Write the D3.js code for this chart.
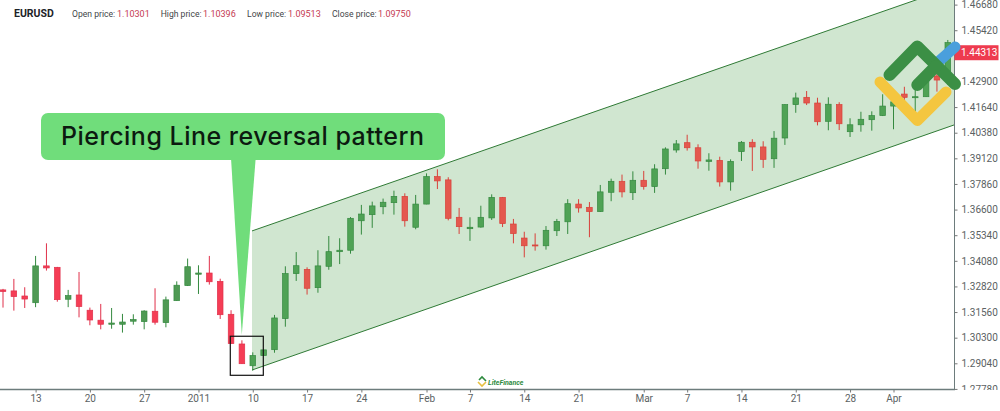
<!DOCTYPE html>
<html>
<head>
<meta charset="utf-8">
<script src="https://cdnjs.cloudflare.com/ajax/libs/d3/7.8.5/d3.min.js"></script>
<style>
    html, body { margin: 0; padding: 0; background: #fff; overflow: hidden; }
    text { font-family: Roboto, sans-serif; }
</style>
</head>
<body>
<script>
// candles, one entry per trading day
const opens = [1.3265,1.3260,1.3235,1.3202,1.3383,1.3376,1.3219,1.3240,1.3165,1.3116,1.3096,1.3096,1.3111,1.3109,1.3160,1.3104,1.3212,1.3286,1.3342,1.3348,1.3307,1.3145,1.2999,1.2892,1.2942,1.2971,1.3124,1.3345,1.3366,1.3276,1.3381,1.3453,1.3460,1.3605,1.3635,1.3674,1.3694,1.3725,1.3573,1.3687,1.3822,1.3806,1.3622,1.3566,1.3574,1.3619,1.3720,1.3589,1.3520,1.3486,1.3482,1.3556,1.3600,1.3687,1.3671,1.3650,1.3745,1.3799,1.3743,1.3804,1.3773,1.3861,1.3953,1.3989,1.3964,1.3897,1.3902,1.3796,1.3945,1.3991,1.3968,1.3910,1.4012,1.4176,1.4212,1.4184,1.4094,1.4176,1.4043,1.4077,1.4102,1.4122,1.4169,1.4228,1.4210,1.4215,1.4317,1.4297];
const highs = [1.3270,1.3319,1.3278,1.3432,1.3494,1.3378,1.3265,1.3353,1.3178,1.3196,1.3176,1.3147,1.3145,1.3165,1.3273,1.3232,1.3307,1.3419,1.3386,1.3432,1.3320,1.3165,1.3017,1.2958,1.2970,1.3142,1.3381,1.3451,1.3376,1.3460,1.3530,1.3519,1.3623,1.3683,1.3699,1.3714,1.3753,1.3740,1.3732,1.3838,1.3858,1.3819,1.3668,1.3622,1.3679,1.3735,1.3722,1.3614,1.3551,1.3543,1.3579,1.3614,1.3711,1.3711,1.3697,1.3781,1.3812,1.3832,1.3848,1.3850,1.3883,1.3966,1.4002,1.4028,1.3981,1.3937,1.3920,1.3907,1.3997,1.4006,1.3996,1.4046,1.4178,1.4235,1.4243,1.4210,1.4212,1.4188,1.4109,1.4141,1.4143,1.4227,1.4233,1.4264,1.4248,1.4307,1.4332,1.4494];
const lows = [1.3178,1.3163,1.3176,1.3180,1.3360,1.3207,1.3180,1.3130,1.3091,1.3071,1.3074,1.3055,1.3094,1.3071,1.3094,1.3081,1.3211,1.3284,1.3245,1.3291,1.3122,1.3000,1.2901,1.2868,1.2942,1.2956,1.3084,1.3309,1.3242,1.3251,1.3364,1.3392,1.3443,1.3537,1.3570,1.3637,1.3635,1.3576,1.3563,1.3686,1.3761,1.3607,1.3540,1.3506,1.3571,1.3609,1.3574,1.3494,1.3425,1.3458,1.3463,1.3530,1.3540,1.3645,1.3524,1.3648,1.3701,1.3720,1.3707,1.3758,1.3742,1.3832,1.3940,1.3950,1.3861,1.3851,1.3773,1.3753,1.3899,1.3850,1.3865,1.3865,1.3978,1.4136,1.4174,1.4074,1.4050,1.4051,1.4017,1.4043,1.4048,1.4120,1.4055,1.4194,1.4135,1.4214,1.4240,1.4273];
const closes = [1.3257,1.3232,1.3220,1.3383,1.3373,1.3217,1.3237,1.3183,1.3117,1.3096,1.3102,1.3107,1.3119,1.3161,1.3106,1.3216,1.3288,1.3379,1.3348,1.3305,1.3143,1.3001,1.2902,1.2942,1.2970,1.3127,1.3345,1.3384,1.3273,1.3383,1.3453,1.3460,1.3617,1.3638,1.3678,1.3696,1.3725,1.3605,1.3687,1.3822,1.3801,1.3617,1.3576,1.3573,1.3622,1.3720,1.3591,1.3542,1.3482,1.3481,1.3558,1.3602,1.3689,1.3668,1.3650,1.3747,1.3799,1.3747,1.3804,1.3773,1.3860,1.3958,1.3983,1.3964,1.3899,1.3904,1.3796,1.3897,1.3991,1.3968,1.3907,1.4011,1.4176,1.4209,1.4184,1.4092,1.4178,1.4082,1.4077,1.4104,1.4122,1.4169,1.4190,1.4212,1.4215,1.4297,1.4297,1.4481];

const dayTicks = [3,8,13,18,23,28,33,39,43,48,53,59,63,68,73,78,82];
const dayLabels = ["13","20","27","2011","10","17","24","Feb","7","14","21","Mar","7","14","21","28","Apr"];
const priceTicks = [1.4668,1.4542,1.429,1.4164,1.4038,1.3912,1.3786,1.366,1.3534,1.3408,1.3282,1.3156,1.303,1.2904,1.2778];
const lastPrice = 1.44313;

// channel corners, day index and price
const channelDays = [22.93,87.57];
const channelUpper = [1.3555,1.4756];
const channelLower = [1.2871,1.4076];
// black box around the pattern
const boxDays = [20.93,23.97];
const boxPrices = [1.3037,1.2845];

const headerNames = ["Open price:","High price:","Low price:","Close price:"];
const headerValues = ["1.10301","1.10396","1.09513","1.09750"];

const width = 1000;
const height = 411;
const plotRight = 954.5;
const plotBottom = 389.5;

const x = d3.scaleLinear().domain([0,87]).range([3,947.8]);
const y = d3.scaleLinear().domain([1.2904,1.4668]).range([363.3,4.6]);

const svg = d3.select("body").append("svg")
    .attr("width", width)
    .attr("height", height)
    .style("display", "block");

svg.append("defs").append("clipPath").attr("id", "plot")
    .append("rect").attr("width", plotRight).attr("height", plotBottom);

// channel
const plot = svg.append("g").attr("clip-path", "url(#plot)");
const channelArea = d3.area()
    .x((d) => x(d))
    .y0((d, i) => y(channelLower[i]))
    .y1((d, i) => y(channelUpper[i]));
plot.append("path").attr("d", channelArea(channelDays)).attr("fill", "#d0e6d0");

[channelUpper, channelLower].forEach((prices) => {
    plot.append("line")
        .attr("x1", x(channelDays[0])).attr("x2", x(channelDays[1]))
        .attr("y1", y(prices[0])).attr("y2", y(prices[1]))
        .attr("stroke", "#2f7a35")
        .attr("stroke-width", 1);
});

// candles
const days = d3.range(opens.length);
const isUp = (i) => closes[i] >= opens[i];
const candleColor = (i) => {
    if (isUp(i)) return i >= 23 ? "#4fa255" : "#4f9a54";
    return i >= 23 ? "#e4584e" : "#f53d55";
};
const candleBorder = (i) => {
    if (isUp(i)) return "#34893f";
    return i >= 23 ? "#d8403a" : "#e0304a";
};

const candles = plot.selectAll("g.candle")
    .data(days)
    .enter()
    .append("g")
    .attr("class", "candle");

candles.append("line")
    .attr("x1", (i) => x(i)).attr("x2", (i) => x(i))
    .attr("y1", (i) => y(highs[i])).attr("y2", (i) => y(lows[i]))
    .attr("stroke", candleBorder)
    .attr("stroke-width", 1);

candles.append("rect")
    .attr("x", (i) => x(i) - 2.8)
    .attr("width", 5.6)
    .attr("y", (i) => y(Math.max(opens[i], closes[i])))
    .attr("height", (i) => Math.max(1, Math.abs(y(opens[i]) - y(closes[i]))))
    .attr("fill", candleColor)
    .attr("stroke", candleBorder)
    .attr("stroke-width", 0.7);

// axes
const xAxis = d3.axisBottom(x)
    .tickValues(dayTicks)
    .tickFormat((d, i) => dayLabels[i])
    .tickSizeInner(3)
    .tickSizeOuter(0)
    .tickPadding(2);
const xAxisG = svg.append("g")
    .attr("transform", `translate(0,${plotBottom})`)
    .call(xAxis);
xAxisG.select(".domain").remove();
xAxisG.selectAll("line").attr("stroke", "#777");
xAxisG.selectAll("text").attr("fill", "#5b6263").style("font-size", "10px");

svg.append("line")
    .attr("x1", 0).attr("x2", plotRight + 0.5)
    .attr("y1", plotBottom).attr("y2", plotBottom)
    .attr("stroke", "#6d7c7c")
    .attr("stroke-width", 1.6);

const yAxis = d3.axisRight(y)
    .tickValues(priceTicks)
    .tickFormat(d3.format(".5f"))
    .tickSizeInner(3)
    .tickSizeOuter(0)
    .tickPadding(4);
const yAxisG = svg.append("g")
    .attr("transform", `translate(${plotRight},0)`)
    .call(yAxis);
yAxisG.select(".domain").remove();
yAxisG.selectAll("line").attr("stroke", "#777");
yAxisG.selectAll("text").attr("fill", "#5b6263").style("font-size", "10px");
// lowest price label is cut by the time axis strip
svg.append("rect")
    .attr("x", plotRight + 1).attr("y", plotBottom + 0.5)
    .attr("width", width - plotRight).attr("height", 12)
    .attr("fill", "#fff");

svg.append("line")
    .attr("x1", plotRight).attr("x2", plotRight)
    .attr("y1", 0).attr("y2", plotBottom)
    .attr("stroke", "#6d7c7c")
    .attr("stroke-width", 1);

// last price tag
svg.append("rect")
    .attr("x", plotRight).attr("y", y(lastPrice) - 7.5)
    .attr("width", 44).attr("height", 15)
    .attr("fill", "#ee3b4f");
svg.append("text")
    .attr("x", plotRight + 6.5).attr("y", y(lastPrice) + 3.6)
    .attr("fill", "#fff")
    .style("font-size", "10px")
    .text(d3.format(".5f")(lastPrice));

// header
svg.append("text")
    .attr("x", 14).attr("y", 17)
    .attr("fill", "#1d2327")
    .style("font-size", "10.5px")
    .style("font-weight", 700)
    .text("EURUSD");

const headerX = [72,160.7,247,332];
const valueX = [117,203,288,378];
headerNames.forEach((name, i) => {
    svg.append("text").attr("x", headerX[i]).attr("y", 17)
        .attr("fill", "#3f4548").style("font-size", "8.6px").text(name);
    svg.append("text").attr("x", valueX[i]).attr("y", 17)
        .attr("fill", "#c53a52").style("font-size", "9px").text(headerValues[i]);
});

// pattern box
svg.append("rect")
    .attr("x", x(boxDays[0])).attr("y", y(boxPrices[0]))
    .attr("width", x(boxDays[1]) - x(boxDays[0]))
    .attr("height", y(boxPrices[1]) - y(boxPrices[0]))
    .attr("fill", "none")
    .attr("stroke", "#111")
    .attr("stroke-width", 1.2);

// callout
svg.append("path")
    .attr("d", "M231,158L255.7,158L241.8,335Z")
    .attr("fill", "#70dd7b");
svg.append("rect")
    .attr("x", 41).attr("y", 113)
    .attr("width", 404).attr("height", 47)
    .attr("rx", 7)
    .attr("fill", "#70dd7b");
svg.append("text")
    .attr("x", 61).attr("y", 144.5)
    .attr("textLength", 363)
    .attr("lengthAdjust", "spacing")
    .attr("fill", "#0c1a10")
    .style("font-family", "Inter, sans-serif")
    .style("font-size", "25px")
    .style("font-weight", 500)
    .text("Piercing Line reversal pattern");

// big logo, top right
const logoLine = (points, color, w) => {
    svg.append("path")
        .attr("d", d3.line()(points))
        .attr("fill", "none")
        .attr("stroke", color)
        .attr("stroke-width", w)
        .attr("stroke-linecap", "round")
        .attr("stroke-linejoin", "round");
};
logoLine([[880,82],[917.3,120.5],[946,92]], "#f4c63f", 11);
logoLine([[938,62],[955,47]], "#4a9fdc", 11);
logoLine([[889.5,75],[917.3,46.5],[955,84]], "#3b8f45", 12);
logoLine([[917.3,85],[936,66]], "#3b8f45", 12);

// small watermark above the time axis
const mark = svg.append("g").attr("transform", "translate(477,376)");
mark.append("path").attr("d", "M1,6L5,10L9,6").attr("fill", "none")
    .attr("stroke", "#e8c040").attr("stroke-width", 1.6);
mark.append("path").attr("d", "M2,4L5,1L9,5").attr("fill", "none")
    .attr("stroke", "#2d8a3e").attr("stroke-width", 1.6);
mark.append("text").attr("x", 11).attr("y", 8.5)
    .attr("fill", "#2d8a3e")
    .style("font-size", "7px")
    .style("font-style", "italic")
    .style("font-weight", 700)
    .text("LiteFinance");
</script>
</body>
</html>
